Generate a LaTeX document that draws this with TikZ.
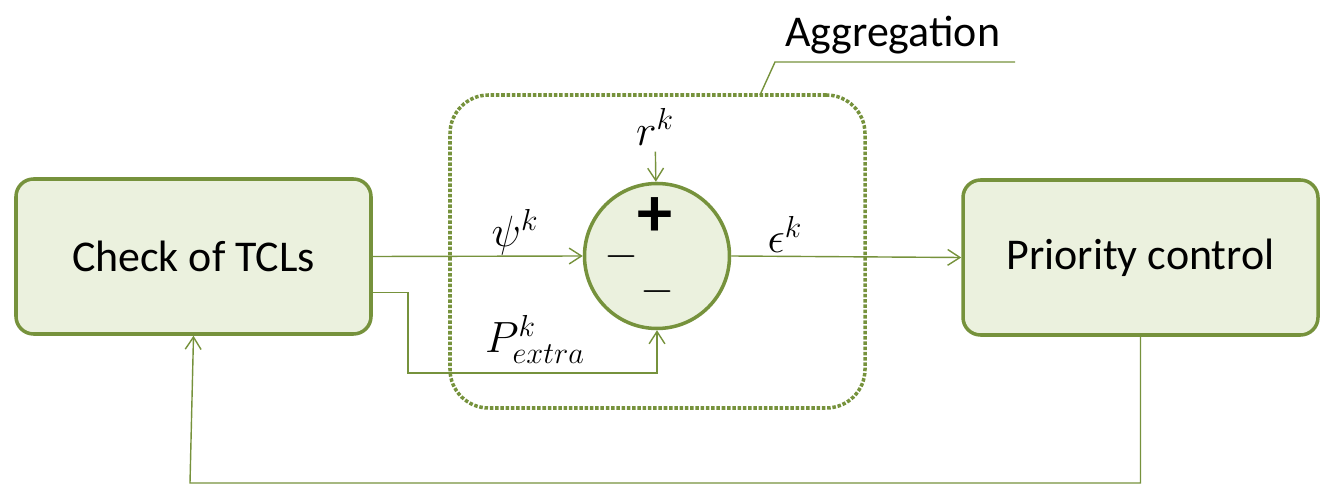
\documentclass[tikz,border=0pt]{standalone}
\usepackage{fontspec}
\setmainfont{Carlito}
\usetikzlibrary{positioning,arrows.meta}
\definecolor{boxgreen}{RGB}{118,146,60}
\definecolor{boxfill}{RGB}{235,241,222}
\tikzset{
  block/.style={rectangle,rounded corners=10pt,draw=boxgreen,line width=2pt,fill=boxfill,minimum width=7.1cm,minimum height=3.1cm,font=\fontsize{25}{30}\selectfont},
  sig/.style={draw=boxgreen,line width=0.8pt,-{Straight Barb[length=7pt,width=9pt]}},
  lbl/.style={font=\fontsize{23}{28}\selectfont},
  sign/.style={font=\fontsize{40}{40}\selectfont\bfseries},
}
\begin{document}
\begin{tikzpicture}
    \useasboundingbox (0,0) rectangle (26.72,10.04);
    \node[block] (check) at (3.87,4.91) {Check of TCLs};
    \node[block] (prio) at (22.81,4.89) {Priority control};
    \node[draw=boxgreen,line width=2pt,densely dotted,rounded corners=22pt,minimum width=8.3cm,minimum height=6.26cm] (agg) at (13.15,5.01) {};
    \node[circle,draw=boxgreen,line width=2pt,fill=boxfill,minimum size=2.9cm] (sum) at (13.14,4.92) {};
    \node[sign] (plus) at (13.1,5.7) {+};
    \node[sign] (mleft) at (12.42,4.9) {$-$};
    \node[sign] (mbot) at (13.14,4.2) {$-$};
    \node[lbl] (r) at (13.1,7.5) {$r^k$};
    \node[lbl] (psi) at (10.3,5.4) {$\psi^k$};
    \node[lbl] (eps) at (15.7,5.35) {$\epsilon^k$};
    \node[lbl] (pex) at (10.7,3.25) {$P^k_{extra}$};
    \node[font=\fontsize{25}{30}\selectfont] (aggtxt) at (17.85,9.34) {Aggregation};
    \draw[sig] (r) -- (sum);
    \draw[sig] (check.east) -- (sum.west);
    \draw[sig] (sum.east) -- (prio.west);
    \draw[sig] ([yshift=-0.72cm]check.east) -| (8.16,2.58) -| (sum.south);
    \draw[sig] (prio.south) |- (3.8,0.38) -- (check.south);
    \draw[draw=boxgreen,line width=0.8pt] (15.2,8.14) -- (15.5,8.8) -- (20.3,8.8);
\end{tikzpicture}
\end{document}
